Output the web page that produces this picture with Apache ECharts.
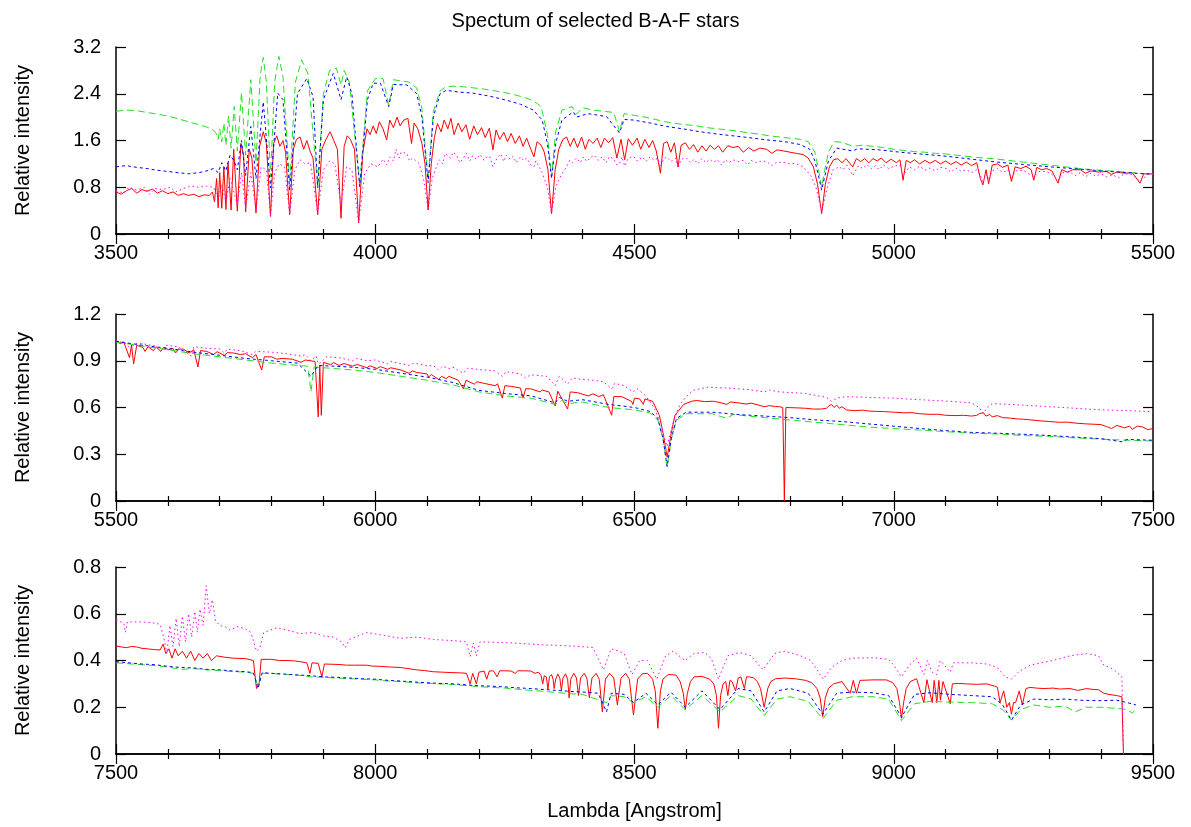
<!DOCTYPE html>
<html>
<head>
<meta charset="utf-8">
<title>Spectum of selected B-A-F stars</title>
<script src="https://cdn.jsdelivr.net/npm/echarts@6/dist/echarts.min.js"></script>
<style>
  html, body { margin: 0; padding: 0; background: #fff; }
  #chart { width: 1191px; height: 827px; }
</style>
</head>
<body>
<div id="chart"></div>
<script>
// Wavelength windows of the three panels (Angstrom) and their intensity scales
const PANEL_RANGES = [[3500, 5500], [5500, 7500], [7500, 9500]];
const Y_MAX = [3.2, 1.2, 0.8];
const Y_STEP = [0.8, 0.3, 0.2];
const X_STEP = 500;

const TITLE = 'Spectum of selected B-A-F stars';
const X_NAME = 'Lambda [Angstrom]';
const Y_NAME = 'Relative intensity';

// ---- red star: [lambda, relative intensity] ----
const red1 = [[3500,0.72],[3510,0.68],[3520,0.74],[3530,0.78],[3540,0.70],[3550,0.76],[3560,0.73],[3570,0.77],[3580,0.70],[3590,0.74],[3600,0.69],[3610,0.72],[3620,0.66],[3630,0.69],[3640,0.66],[3650,0.68],[3660,0.64],[3670,0.67],[3680,0.66],[3686,0.72],[3690,0.55],[3694,0.95],[3697,0.45],[3700,1.05],[3704,0.44],[3708,1.15],[3712,0.42],[3716,1.22],[3722,0.41],[3727,1.45],[3734,0.39],[3741,1.55],[3746,1.35],[3750,0.38],[3757,1.45],[3762,1.30],[3770,0.36],[3777,1.50],[3784,1.75],[3790,1.55],[3798,0.30],[3804,1.55],[3810,1.68],[3816,1.50],[3822,1.60],[3827,1.40],[3835,0.33],[3842,1.45],[3848,1.62],[3855,1.66],[3862,1.45],[3868,1.60],[3875,1.40],[3880,1.30],[3889,0.33],[3897,1.45],[3905,1.62],[3913,1.75],[3920,1.60],[3927,1.45],[3934,0.27],[3940,1.50],[3946,1.68],[3952,1.62],[3960,1.45],[3968,0.19],[3976,1.40],[3984,1.80],[3990,1.70],[3996,1.85],[4002,1.72],[4008,1.92],[4015,1.80],[4022,1.61],[4028,1.95],[4035,1.82],[4042,2.00],[4048,1.85],[4055,1.95],[4063,1.98],[4070,1.55],[4075,1.90],[4082,1.80],[4090,1.55],[4096,1.20],[4102,0.41],[4108,1.20],[4114,1.65],[4120,1.89],[4127,1.75],[4133,1.95],[4140,1.80],[4146,1.98],[4152,1.70],[4160,1.90],[4167,1.75],[4175,1.87],[4182,1.62],[4190,1.85],[4197,1.70],[4205,1.82],[4212,1.65],[4220,1.81],[4227,1.44],[4233,1.78],[4240,1.62],[4248,1.74],[4255,1.58],[4262,1.72],[4270,1.55],[4278,1.68],[4285,1.50],[4292,1.64],[4300,1.45],[4306,1.32],[4312,1.58],[4320,1.52],[4326,1.40],[4333,1.10],[4340,0.35],[4347,1.10],[4354,1.45],[4362,1.62],[4369,1.66],[4376,1.50],[4383,1.64],[4390,1.48],[4398,1.66],[4405,1.45],[4412,1.62],[4420,1.55],[4428,1.64],[4435,1.48],[4442,1.64],[4450,1.56],[4458,1.65],[4466,1.30],[4474,1.62],[4481,1.27],[4488,1.63],[4496,1.52],[4505,1.64],[4512,1.45],[4520,1.62],[4528,1.48],[4535,1.60],[4542,1.42],[4550,1.04],[4556,1.55],[4563,1.58],[4570,1.40],[4577,1.56],[4584,1.15],[4590,1.52],[4598,1.56],[4606,1.45],[4614,1.53],[4622,1.40],[4630,1.51],[4638,1.42],[4646,1.52],[4654,1.45],[4662,1.51],[4670,1.40],[4680,1.51],[4690,1.48],[4700,1.50],[4710,1.40],[4720,1.48],[4730,1.42],[4742,1.47],[4755,1.45],[4765,1.38],[4775,1.44],[4788,1.42],[4800,1.40],[4812,1.38],[4825,1.36],[4835,1.30],[4845,1.15],[4853,0.85],[4861,0.35],[4868,0.85],[4876,1.15],[4884,1.27],[4892,1.29],[4900,1.22],[4908,1.29],[4916,1.20],[4921,1.15],[4928,1.29],[4936,1.24],[4944,1.29],[4952,1.22],[4960,1.29],[4968,1.25],[4976,1.30],[4985,1.22],[4995,1.28],[5005,1.22],[5012,1.27],[5018,0.92],[5024,1.26],[5032,1.22],[5040,1.27],[5050,1.20],[5060,1.26],[5070,1.21],[5080,1.26],[5090,1.20],[5100,1.25],[5110,1.19],[5120,1.24],[5130,1.18],[5140,1.23],[5150,1.17],[5160,1.22],[5167,0.95],[5172,0.84],[5178,1.10],[5183,0.86],[5190,1.18],[5200,1.20],[5210,1.14],[5220,1.18],[5227,0.90],[5234,1.15],[5245,1.12],[5255,1.16],[5265,1.10],[5270,0.92],[5276,1.14],[5285,1.10],[5295,1.12],[5305,1.08],[5317,0.87],[5324,1.10],[5335,1.06],[5345,1.10],[5360,1.10],[5370,1.04],[5380,1.08],[5395,1.06],[5410,1.07],[5420,1.02],[5430,1.06],[5445,1.04],[5460,1.05],[5475,0.87],[5482,1.03],[5495,1.03],[5500,1.03]];
const red2 = [[5500,1.03],[5508,1.01],[5515,1.02],[5526,0.92],[5530,1.0],[5534,0.88],[5540,1.0],[5552,0.985],[5556,0.96],[5562,0.99],[5572,0.965],[5578,0.99],[5586,0.96],[5592,0.985],[5602,0.97],[5610,0.98],[5615,0.95],[5620,0.975],[5630,0.975],[5641,0.95],[5650,0.97],[5658,0.86],[5663,0.965],[5675,0.96],[5688,0.94],[5695,0.958],[5709,0.935],[5715,0.952],[5726,0.95],[5740,0.94],[5750,0.945],[5763,0.92],[5770,0.94],[5781,0.84],[5786,0.925],[5800,0.925],[5810,0.91],[5820,0.915],[5840,0.91],[5857,0.89],[5865,0.905],[5884,0.895],[5890,0.54],[5893,0.87],[5896,0.55],[5900,0.89],[5914,0.875],[5920,0.888],[5930,0.87],[5940,0.882],[5956,0.865],[5965,0.876],[5984,0.855],[5990,0.868],[6003,0.85],[6010,0.862],[6024,0.845],[6030,0.855],[6050,0.84],[6065,0.82],[6072,0.835],[6080,0.825],[6100,0.815],[6103,0.795],[6108,0.812],[6122,0.78],[6128,0.80],[6137,0.785],[6142,0.80],[6160,0.775],[6170,0.72],[6175,0.775],[6191,0.75],[6196,0.765],[6210,0.755],[6231,0.74],[6236,0.752],[6245,0.66],[6250,0.74],[6263,0.735],[6280,0.725],[6285,0.66],[6290,0.72],[6300,0.72],[6318,0.70],[6322,0.712],[6335,0.70],[6347,0.61],[6352,0.705],[6371,0.59],[6376,0.70],[6390,0.695],[6400,0.685],[6411,0.675],[6420,0.688],[6431,0.67],[6440,0.682],[6456,0.55],[6460,0.67],[6475,0.67],[6494,0.64],[6497,0.62],[6500,0.66],[6510,0.655],[6517,0.62],[6520,0.655],[6535,0.64],[6548,0.55],[6556,0.42],[6563,0.28],[6570,0.42],[6578,0.55],[6595,0.62],[6610,0.64],[6620,0.645],[6635,0.638],[6652,0.64],[6665,0.632],[6678,0.62],[6685,0.635],[6700,0.63],[6715,0.622],[6725,0.628],[6740,0.615],[6750,0.605],[6760,0.612],[6772,0.606],[6780,0.605],[6786,0.60],[6789,0.0],[6792,0.60],[6810,0.598],[6830,0.595],[6845,0.59],[6860,0.59],[6870,0.595],[6875,0.61],[6880,0.62],[6885,0.60],[6890,0.615],[6895,0.595],[6900,0.605],[6909,0.584],[6925,0.58],[6940,0.583],[6950,0.578],[6965,0.575],[6980,0.574],[7000,0.57],[7020,0.566],[7035,0.567],[7050,0.56],[7070,0.556],[7085,0.557],[7100,0.55],[7120,0.548],[7135,0.55],[7150,0.545],[7160,0.55],[7165,0.56],[7173,0.567],[7178,0.545],[7185,0.555],[7190,0.54],[7200,0.548],[7210,0.535],[7225,0.532],[7240,0.526],[7250,0.525],[7265,0.52],[7280,0.515],[7300,0.51],[7320,0.505],[7335,0.506],[7350,0.50],[7370,0.495],[7390,0.492],[7400,0.49],[7410,0.478],[7420,0.465],[7430,0.485],[7445,0.47],[7455,0.48],[7460,0.46],[7470,0.48],[7480,0.475],[7490,0.458],[7500,0.465]];
const red3 = [[7500,0.462],[7510,0.458],[7520,0.455],[7530,0.46],[7540,0.458],[7550,0.452],[7560,0.45],[7572,0.447],[7585,0.445],[7591,0.47],[7596,0.43],[7602,0.45],[7608,0.41],[7614,0.45],[7620,0.42],[7628,0.44],[7636,0.41],[7644,0.44],[7652,0.40],[7660,0.43],[7668,0.41],[7676,0.43],[7684,0.40],[7694,0.42],[7710,0.414],[7726,0.41],[7750,0.408],[7765,0.40],[7771,0.28],[7776,0.30],[7780,0.405],[7800,0.405],[7815,0.40],[7830,0.40],[7845,0.398],[7855,0.395],[7868,0.39],[7874,0.345],[7878,0.39],[7890,0.388],[7897,0.33],[7902,0.385],[7915,0.384],[7930,0.383],[7945,0.38],[7960,0.38],[7983,0.38],[7995,0.376],[8010,0.375],[8030,0.372],[8048,0.37],[8065,0.365],[8080,0.36],[8095,0.357],[8112,0.352],[8130,0.35],[8150,0.348],[8165,0.347],[8176,0.345],[8183,0.30],[8188,0.345],[8195,0.30],[8200,0.35],[8210,0.355],[8215,0.32],[8220,0.355],[8228,0.356],[8235,0.33],[8240,0.356],[8250,0.356],[8262,0.355],[8270,0.345],[8275,0.356],[8288,0.356],[8300,0.355],[8308,0.345],[8315,0.35],[8320,0.335],[8323,0.30],[8326,0.335],[8330,0.33],[8333,0.277],[8336,0.33],[8340,0.34],[8343,0.32],[8345,0.28],[8348,0.32],[8352,0.342],[8356,0.325],[8359,0.27],[8362,0.325],[8367,0.343],[8371,0.32],[8374,0.24],[8377,0.32],[8383,0.345],[8388,0.325],[8392,0.25],[8396,0.325],[8403,0.345],[8408,0.325],[8413,0.24],[8418,0.325],[8426,0.345],[8432,0.32],[8438,0.18],[8444,0.32],[8452,0.345],[8460,0.325],[8467,0.21],[8474,0.325],[8483,0.345],[8490,0.32],[8498,0.167],[8506,0.32],[8515,0.343],[8525,0.345],[8535,0.32],[8540,0.27],[8545,0.11],[8550,0.27],[8555,0.32],[8565,0.34],[8580,0.338],[8588,0.31],[8594,0.26],[8598,0.19],[8602,0.26],[8608,0.31],[8615,0.33],[8630,0.332],[8645,0.32],[8653,0.30],[8658,0.25],[8662,0.11],[8666,0.25],[8671,0.30],[8676,0.31],[8680,0.25],[8684,0.315],[8688,0.31],[8695,0.27],[8700,0.325],[8705,0.33],[8712,0.28],[8716,0.33],[8722,0.33],[8730,0.325],[8737,0.31],[8743,0.28],[8750,0.20],[8757,0.28],[8763,0.31],[8772,0.322],[8790,0.325],[8810,0.322],[8830,0.315],[8842,0.305],[8852,0.28],[8858,0.24],[8863,0.16],[8868,0.24],[8874,0.28],[8884,0.30],[8900,0.31],[8916,0.26],[8922,0.315],[8928,0.26],[8935,0.315],[8960,0.317],[8986,0.317],[8998,0.305],[9006,0.28],[9011,0.22],[9015,0.153],[9019,0.22],[9024,0.28],[9032,0.31],[9044,0.322],[9058,0.22],[9064,0.318],[9074,0.22],[9078,0.315],[9083,0.22],[9087,0.315],[9090,0.23],[9095,0.31],[9109,0.215],[9113,0.30],[9125,0.302],[9140,0.30],[9160,0.298],[9179,0.30],[9195,0.29],[9200,0.285],[9205,0.22],[9212,0.27],[9218,0.20],[9223,0.22],[9227,0.17],[9231,0.22],[9235,0.22],[9242,0.27],[9248,0.21],[9255,0.28],[9263,0.285],[9275,0.282],[9290,0.28],[9307,0.282],[9320,0.278],[9340,0.28],[9355,0.272],[9372,0.28],[9385,0.276],[9395,0.275],[9405,0.26],[9417,0.254],[9430,0.25],[9440,0.245],[9443,0]];

// ---- green star ----
const green1 = [[3500,2.10],[3520,2.12],[3540,2.11],[3560,2.08],[3580,2.05],[3600,2.02],[3620,1.97],[3640,1.92],[3660,1.87],[3675,1.83],[3688,1.78],[3693,1.72],[3697,1.62],[3700,1.80],[3704,1.58],[3708,1.90],[3712,1.52],[3717,2.02],[3722,1.47],[3728,2.18],[3734,1.42],[3742,2.42],[3750,1.35],[3760,2.64],[3770,1.22],[3778,2.70],[3784,3.02],[3790,2.60],[3798,0.98],[3806,2.60],[3814,3.04],[3822,2.70],[3835,0.87],[3846,2.60],[3858,2.98],[3870,2.75],[3889,0.81],[3900,2.40],[3912,2.80],[3925,2.84],[3934,2.55],[3940,2.80],[3950,2.60],[3970,0.85],[3985,2.45],[4000,2.66],[4015,2.66],[4026,2.20],[4035,2.64],[4050,2.62],[4065,2.60],[4080,2.50],[4090,2.15],[4102,0.92],[4112,2.10],[4125,2.45],[4137,2.52],[4150,2.53],[4170,2.52],[4190,2.50],[4210,2.48],[4230,2.45],[4250,2.42],[4270,2.38],[4290,2.33],[4305,2.28],[4320,2.18],[4332,1.70],[4340,0.98],[4348,1.75],[4360,2.12],[4380,2.18],[4388,2.05],[4400,2.16],[4420,2.12],[4440,2.10],[4460,2.08],[4471,1.75],[4480,2.06],[4500,2.03],[4520,2.00],[4540,1.96],[4560,1.92],[4580,1.89],[4600,1.87],[4620,1.85],[4640,1.82],[4660,1.80],[4680,1.78],[4700,1.76],[4720,1.73],[4740,1.71],[4760,1.68],[4780,1.66],[4800,1.64],[4820,1.62],[4835,1.58],[4848,1.40],[4856,1.05],[4861,0.80],[4866,1.05],[4874,1.40],[4885,1.58],[4900,1.57],[4921,1.50],[4940,1.52],[4960,1.50],[4980,1.48],[5000,1.45],[5020,1.43],[5040,1.41],[5060,1.40],[5080,1.38],[5100,1.37],[5130,1.34],[5160,1.31],[5190,1.29],[5220,1.26],[5250,1.23],[5280,1.20],[5310,1.17],[5340,1.14],[5370,1.11],[5400,1.09],[5430,1.07],[5460,1.05],[5500,1.02]];
const green2 = [[5500,1.02],[5550,0.995],[5600,0.97],[5650,0.945],[5700,0.925],[5750,0.905],[5800,0.885],[5850,0.87],[5870,0.865],[5876,0.70],[5882,0.86],[5920,0.85],[5960,0.84],[6000,0.825],[6050,0.80],[6100,0.775],[6150,0.745],[6200,0.70],[6250,0.675],[6300,0.66],[6347,0.62],[6360,0.645],[6371,0.625],[6400,0.635],[6450,0.60],[6500,0.585],[6530,0.565],[6545,0.52],[6555,0.40],[6563,0.22],[6571,0.40],[6581,0.52],[6600,0.56],[6650,0.56],[6678,0.53],[6690,0.555],[6750,0.535],[6800,0.52],[6850,0.505],[6900,0.49],[6950,0.475],[7000,0.465],[7050,0.455],[7100,0.445],[7150,0.435],[7200,0.43],[7250,0.42],[7300,0.415],[7350,0.405],[7400,0.397],[7450,0.39],[7500,0.385]];
const green3 = [[7500,0.39],[7530,0.385],[7550,0.382],[7575,0.378],[7600,0.372],[7625,0.362],[7650,0.365],[7675,0.36],[7700,0.357],[7725,0.353],[7750,0.35],[7765,0.345],[7774,0.29],[7782,0.345],[7800,0.345],[7825,0.34],[7850,0.338],[7875,0.33],[7900,0.328],[7925,0.325],[7950,0.322],[7975,0.32],[8000,0.317],[8025,0.312],[8050,0.31],[8075,0.305],[8100,0.302],[8125,0.30],[8150,0.297],[8175,0.293],[8200,0.288],[8225,0.285],[8250,0.282],[8275,0.277],[8300,0.272],[8325,0.268],[8350,0.263],[8375,0.258],[8400,0.255],[8446,0.22],[8455,0.25],[8480,0.245],[8498,0.22],[8522,0.245],[8545,0.20],[8570,0.25],[8598,0.19],[8630,0.25],[8665,0.18],[8700,0.25],[8725,0.235],[8750,0.165],[8775,0.235],[8800,0.245],[8835,0.225],[8863,0.15],[8890,0.23],[8920,0.245],[8960,0.245],[8990,0.235],[9015,0.143],[9040,0.215],[9070,0.225],[9110,0.222],[9150,0.22],[9190,0.215],[9210,0.19],[9227,0.145],[9245,0.19],[9270,0.21],[9300,0.20],[9330,0.205],[9350,0.18],[9370,0.20],[9400,0.20],[9430,0.195],[9450,0.19],[9460,0.175],[9467,0.19]];

// ---- blue star ----
const blue1 = [[3500,1.15],[3520,1.17],[3540,1.14],[3560,1.12],[3580,1.09],[3600,1.07],[3620,1.05],[3640,1.03],[3660,1.05],[3675,1.08],[3688,1.12],[3697,1.05],[3704,1.22],[3712,1.08],[3720,1.35],[3728,1.25],[3734,1.10],[3742,1.60],[3750,1.00],[3760,1.84],[3770,0.95],[3784,2.26],[3798,0.79],[3812,2.41],[3822,2.30],[3835,0.75],[3850,2.40],[3868,2.66],[3880,2.35],[3889,0.79],[3900,2.30],[3919,2.75],[3934,2.30],[3945,2.69],[3955,2.40],[3970,0.81],[3985,2.30],[3996,2.58],[4010,2.58],[4026,2.18],[4035,2.56],[4061,2.55],[4080,2.40],[4090,2.00],[4102,0.88],[4112,2.00],[4125,2.40],[4137,2.46],[4160,2.43],[4189,2.41],[4220,2.36],[4253,2.29],[4280,2.22],[4305,2.12],[4322,1.95],[4332,1.55],[4340,0.95],[4348,1.55],[4360,1.95],[4382,2.09],[4388,2.00],[4410,2.06],[4446,2.01],[4471,1.73],[4480,1.96],[4498,1.95],[4530,1.90],[4562,1.84],[4600,1.79],[4626,1.75],[4660,1.71],[4690,1.68],[4720,1.65],[4755,1.61],[4790,1.58],[4820,1.53],[4838,1.45],[4848,1.25],[4856,0.95],[4861,0.75],[4866,0.95],[4874,1.25],[4890,1.47],[4921,1.42],[4930,1.46],[4948,1.45],[4973,1.44],[5012,1.40],[5050,1.37],[5102,1.33],[5150,1.28],[5200,1.23],[5250,1.19],[5300,1.15],[5359,1.11],[5400,1.08],[5450,1.05],[5500,1.02]];
const blue2 = [[5500,1.025],[5550,1.0],[5600,0.98],[5650,0.955],[5700,0.935],[5750,0.915],[5800,0.90],[5850,0.885],[5876,0.80],[5890,0.87],[5950,0.86],[6000,0.845],[6050,0.82],[6100,0.795],[6150,0.76],[6200,0.71],[6250,0.69],[6300,0.675],[6347,0.63],[6355,0.665],[6371,0.64],[6400,0.65],[6450,0.62],[6500,0.60],[6530,0.575],[6545,0.53],[6555,0.40],[6563,0.22],[6571,0.40],[6581,0.53],[6600,0.57],[6650,0.57],[6700,0.555],[6750,0.545],[6800,0.535],[6850,0.52],[6900,0.51],[6950,0.495],[7000,0.48],[7050,0.465],[7100,0.452],[7150,0.44],[7200,0.435],[7250,0.428],[7300,0.42],[7350,0.41],[7400,0.40],[7440,0.38],[7450,0.395],[7500,0.39]];
const blue3 = [[7500,0.395],[7525,0.39],[7550,0.385],[7575,0.382],[7600,0.375],[7625,0.37],[7650,0.368],[7675,0.362],[7700,0.36],[7725,0.355],[7750,0.352],[7765,0.348],[7774,0.28],[7782,0.348],[7800,0.345],[7825,0.342],[7850,0.338],[7875,0.335],[7900,0.33],[7925,0.328],[7950,0.325],[7975,0.322],[8000,0.32],[8025,0.315],[8050,0.312],[8075,0.308],[8100,0.305],[8125,0.302],[8150,0.30],[8175,0.296],[8200,0.292],[8225,0.29],[8250,0.287],[8275,0.283],[8300,0.28],[8325,0.276],[8350,0.272],[8375,0.268],[8400,0.265],[8430,0.26],[8446,0.18],[8455,0.26],[8480,0.255],[8498,0.22],[8522,0.26],[8545,0.21],[8570,0.265],[8598,0.20],[8630,0.27],[8665,0.19],[8700,0.28],[8725,0.27],[8750,0.18],[8775,0.27],[8800,0.28],[8835,0.26],[8863,0.17],[8890,0.26],[8920,0.265],[8960,0.262],[8990,0.25],[9015,0.157],[9040,0.255],[9070,0.262],[9110,0.255],[9150,0.25],[9190,0.245],[9210,0.21],[9227,0.145],[9245,0.21],[9270,0.235],[9300,0.232],[9330,0.235],[9360,0.23],[9400,0.228],[9430,0.23],[9450,0.22],[9467,0.21]];

// ---- magenta star ----
const magenta1 = [[3500,0.74],[3515,0.70],[3525,0.80],[3540,0.75],[3555,0.80],[3565,0.68],[3575,0.78],[3590,0.76],[3605,0.80],[3615,0.72],[3630,0.78],[3645,0.82],[3660,0.80],[3675,0.82],[3688,0.80],[3697,0.60],[3704,0.85],[3712,0.55],[3720,0.95],[3734,0.50],[3742,1.05],[3750,0.45],[3760,1.05],[3770,0.40],[3780,1.15],[3790,1.10],[3798,0.32],[3806,1.05],[3815,1.20],[3825,1.15],[3835,0.34],[3845,1.10],[3855,1.27],[3865,1.20],[3875,1.22],[3889,0.35],[3900,1.10],[3912,1.25],[3922,1.20],[3934,0.50],[3945,1.15],[3955,1.10],[3968,0.20],[3980,1.05],[3992,1.20],[4005,1.15],[4015,1.28],[4022,1.18],[4028,1.32],[4035,1.25],[4040,1.45],[4046,1.30],[4050,1.40],[4061,1.38],[4066,1.25],[4072,1.30],[4085,1.20],[4094,0.90],[4102,0.42],[4110,0.95],[4118,1.15],[4124,1.27],[4130,1.20],[4135,1.38],[4145,1.30],[4150,1.40],[4157,1.35],[4163,1.22],[4170,1.30],[4176,1.38],[4182,1.25],[4188,1.34],[4195,1.28],[4202,1.36],[4210,1.26],[4216,1.33],[4221,1.32],[4227,1.15],[4235,1.30],[4242,1.37],[4248,1.24],[4253,1.35],[4260,1.28],[4266,1.33],[4272,1.22],[4280,1.32],[4286,1.26],[4292,1.30],[4300,1.18],[4306,1.15],[4310,1.25],[4322,1.05],[4332,0.80],[4340,0.35],[4348,0.80],[4358,1.00],[4369,1.15],[4375,1.26],[4380,1.22],[4388,1.30],[4395,1.22],[4402,1.32],[4408,1.24],[4414,1.30],[4422,1.35],[4430,1.26],[4438,1.32],[4445,1.22],[4452,1.33],[4460,1.28],[4466,1.18],[4471,1.20],[4476,1.32],[4481,1.16],[4488,1.30],[4498,1.33],[4505,1.25],[4515,1.32],[4522,1.24],[4530,1.32],[4538,1.26],[4545,1.30],[4550,1.14],[4556,1.28],[4562,1.32],[4570,1.24],[4580,1.30],[4584,1.12],[4590,1.28],[4600,1.30],[4608,1.22],[4615,1.28],[4622,1.20],[4630,1.29],[4638,1.22],[4645,1.28],[4652,1.23],[4660,1.27],[4668,1.18],[4675,1.27],[4682,1.22],[4690,1.27],[4700,1.24],[4710,1.26],[4718,1.18],[4725,1.26],[4735,1.22],[4745,1.25],[4755,1.24],[4765,1.17],[4775,1.23],[4790,1.22],[4800,1.20],[4810,1.21],[4825,1.15],[4840,1.00],[4850,0.80],[4861,0.38],[4872,0.80],[4883,1.10],[4895,1.15],[4902,1.10],[4910,1.18],[4921,1.00],[4932,1.17],[4940,1.12],[4948,1.19],[4957,1.12],[4965,1.17],[4972,1.10],[4980,1.18],[4990,1.12],[5000,1.16],[5012,1.18],[5018,1.00],[5030,1.15],[5040,1.10],[5050,1.16],[5060,1.09],[5070,1.13],[5080,1.08],[5090,1.14],[5102,1.12],[5110,1.06],[5120,1.13],[5130,1.07],[5140,1.10],[5150,1.05],[5160,1.10],[5167,1.00],[5172,0.90],[5178,1.02],[5183,0.95],[5190,1.08],[5200,1.12],[5210,1.05],[5220,1.10],[5227,0.95],[5235,1.08],[5250,1.09],[5260,1.03],[5270,0.98],[5280,1.07],[5295,1.07],[5305,1.02],[5317,0.92],[5325,1.05],[5340,1.06],[5350,1.00],[5360,1.05],[5370,0.98],[5380,1.04],[5390,0.99],[5400,1.03],[5410,0.98],[5423,1.01],[5433,0.96],[5445,1.03],[5460,1.02],[5475,0.90],[5490,1.02],[5500,1.02]];
const magenta2 = [[5500,1.03],[5520,1.01],[5528,0.97],[5535,1.01],[5550,1.01],[5575,0.995],[5586,0.96],[5595,1.0],[5620,0.99],[5645,0.93],[5650,0.99],[5675,0.98],[5700,0.975],[5709,0.95],[5715,0.975],[5740,0.965],[5763,0.94],[5770,0.96],[5800,0.955],[5830,0.945],[5857,0.93],[5865,0.94],[5876,0.90],[5886,0.93],[5890,0.88],[5896,0.89],[5905,0.925],[5930,0.92],[5956,0.90],[5965,0.915],[5984,0.90],[6000,0.905],[6024,0.88],[6030,0.895],[6065,0.87],[6075,0.885],[6103,0.865],[6112,0.87],[6122,0.84],[6130,0.865],[6142,0.85],[6150,0.858],[6170,0.82],[6178,0.852],[6202,0.843],[6230,0.835],[6245,0.80],[6252,0.83],[6280,0.815],[6290,0.79],[6300,0.81],[6331,0.80],[6347,0.74],[6355,0.80],[6371,0.75],[6380,0.79],[6400,0.78],[6420,0.775],[6440,0.765],[6456,0.72],[6462,0.755],[6480,0.74],[6497,0.70],[6505,0.72],[6520,0.68],[6538,0.60],[6550,0.50],[6558,0.40],[6563,0.35],[6568,0.42],[6576,0.52],[6588,0.62],[6600,0.67],[6613,0.71],[6640,0.73],[6680,0.725],[6720,0.715],[6750,0.70],[6760,0.712],[6780,0.70],[6830,0.69],[6870,0.665],[6880,0.64],[6890,0.66],[6909,0.67],[6950,0.665],[7000,0.66],[7050,0.65],[7108,0.64],[7150,0.63],[7165,0.60],[7173,0.56],[7180,0.60],[7190,0.625],[7250,0.615],[7301,0.605],[7350,0.595],[7400,0.585],[7450,0.58],[7500,0.573]];
const magenta3 = [[7500,0.573],[7515,0.56],[7518,0.52],[7522,0.565],[7550,0.565],[7575,0.56],[7585,0.555],[7592,0.50],[7598,0.43],[7604,0.55],[7610,0.46],[7616,0.58],[7622,0.46],[7628,0.59],[7634,0.48],[7640,0.60],[7646,0.50],[7652,0.61],[7657,0.52],[7662,0.62],[7668,0.55],[7674,0.72],[7680,0.60],[7686,0.66],[7692,0.57],[7700,0.55],[7710,0.545],[7720,0.53],[7735,0.545],[7750,0.535],[7760,0.52],[7771,0.44],[7777,0.45],[7785,0.52],[7810,0.54],[7830,0.53],[7855,0.515],[7880,0.52],[7900,0.505],[7919,0.50],[7935,0.48],[7942,0.455],[7950,0.49],[7983,0.52],[8010,0.51],[8048,0.495],[8080,0.50],[8112,0.49],[8150,0.485],[8176,0.48],[8183,0.416],[8189,0.475],[8195,0.42],[8202,0.48],[8230,0.478],[8266,0.475],[8300,0.47],[8331,0.466],[8350,0.465],[8395,0.46],[8420,0.455],[8440,0.36],[8455,0.45],[8470,0.44],[8480,0.43],[8495,0.34],[8510,0.40],[8525,0.40],[8543,0.32],[8560,0.42],[8575,0.44],[8597,0.40],[8615,0.43],[8635,0.434],[8648,0.41],[8662,0.32],[8680,0.42],[8703,0.434],[8725,0.42],[8748,0.36],[8770,0.43],[8790,0.44],[8820,0.42],[8840,0.40],[8864,0.32],[8880,0.37],[8900,0.40],[8922,0.41],[8960,0.412],[8990,0.405],[9000,0.38],[9015,0.33],[9030,0.38],[9044,0.41],[9058,0.34],[9065,0.40],[9074,0.35],[9083,0.34],[9090,0.40],[9109,0.35],[9115,0.39],[9150,0.39],[9179,0.385],[9200,0.37],[9215,0.33],[9227,0.32],[9240,0.35],[9263,0.38],[9285,0.39],[9307,0.40],[9340,0.42],[9372,0.43],[9395,0.42],[9405,0.38],[9417,0.37],[9425,0.36],[9435,0.34],[9440,0.33],[9443,0]];

// Per-star drawing style; the list order is also the drawing order
const STARS = [
  { name: 'red',     panels: [red1, red2, red3],             color: '#ff0000', dash: 'solid' },
  { name: 'green',   panels: [green1, green2, green3],       color: '#22e022', dash: [7, 4] },
  { name: 'blue',    panels: [blue1, blue2, blue3],          color: '#0000ff', dash: [3, 3] },
  { name: 'magenta', panels: [magenta1, magenta2, magenta3], color: '#ff00ff', dash: [1.5, 3] }
];

const FONT = 'Liberation Sans, Arial, Helvetica, sans-serif';
const FONT_SIZE = 20;
const GRID_TOPS = [47, 314, 567];
const GRID_H = 187;

const grids = GRID_TOPS.map(t => ({ left: 116, right: 38, top: t, height: GRID_H, containLabel: false }));

const frameLine = { show: true, lineStyle: { color: '#000', width: 1.5 } };
const yFmt = v => String(+v.toFixed(2));
const xFmt = v => String(v);

const xAxes = [];
const yAxes = [];
PANEL_RANGES.forEach((rng, i) => {
  const xBase = {
    gridIndex: i, type: 'value', min: rng[0], max: rng[1], interval: X_STEP,
    axisLine: frameLine,
    axisTick: { show: true, inside: true, length: 10, lineStyle: { color: '#000', width: 1.2 } },
    minorTick: { show: true, splitNumber: 5, length: 5, lineStyle: { color: '#000', width: 1.2 } },
    splitLine: { show: false }, minorSplitLine: { show: false }
  };
  xAxes.push(Object.assign({}, xBase, {
    position: 'bottom',
    axisLabel: { show: true, color: '#000', fontSize: FONT_SIZE, fontFamily: FONT, margin: 9, formatter: xFmt },
    name: i === 2 ? X_NAME : '', nameLocation: 'middle', nameGap: 47,
    nameTextStyle: { color: '#000', fontSize: FONT_SIZE, fontFamily: FONT }
  }));
  xAxes.push(Object.assign({}, xBase, { position: 'top', axisLabel: { show: false } }));

  const yBase = {
    gridIndex: i, type: 'value', min: 0, max: Y_MAX[i], interval: Y_STEP[i],
    axisLine: frameLine,
    axisTick: { show: true, inside: true, length: 10, lineStyle: { color: '#000', width: 1.2 } },
    splitLine: { show: false }
  };
  yAxes.push(Object.assign({}, yBase, {
    position: 'left',
    axisLabel: { show: true, color: '#000', fontSize: FONT_SIZE, fontFamily: FONT, margin: 15, formatter: yFmt },
    name: Y_NAME, nameLocation: 'middle', nameRotate: 90, nameGap: 83,
    nameTextStyle: { color: '#000', fontSize: FONT_SIZE, fontFamily: FONT }
  }));
  yAxes.push(Object.assign({}, yBase, { position: 'right', axisLabel: { show: false } }));
});

const series = [];
STARS.forEach((star, si) => {
  star.panels.forEach((data, pi) => {
    series.push({
      name: star.name,
      type: 'line',
      xAxisIndex: pi * 2,
      yAxisIndex: pi * 2,
      data: data,
      showSymbol: false,
      symbol: 'none',
      clip: true,
      z: 2 + si,
      lineStyle: { color: star.color, width: 1, type: star.dash },
      emphasis: { disabled: true }
    });
  });
});

const chart = echarts.init(document.getElementById('chart'), null, { renderer: 'canvas' });
chart.setOption({
  backgroundColor: '#fff',
  animation: false,
  title: {
    text: TITLE, left: 'center', top: 6,
    textStyle: { color: '#000', fontSize: FONT_SIZE, fontWeight: 'normal', fontFamily: FONT }
  },
  grid: grids,
  xAxis: xAxes,
  yAxis: yAxes,
  series: series
});
</script>
</body>
</html>
